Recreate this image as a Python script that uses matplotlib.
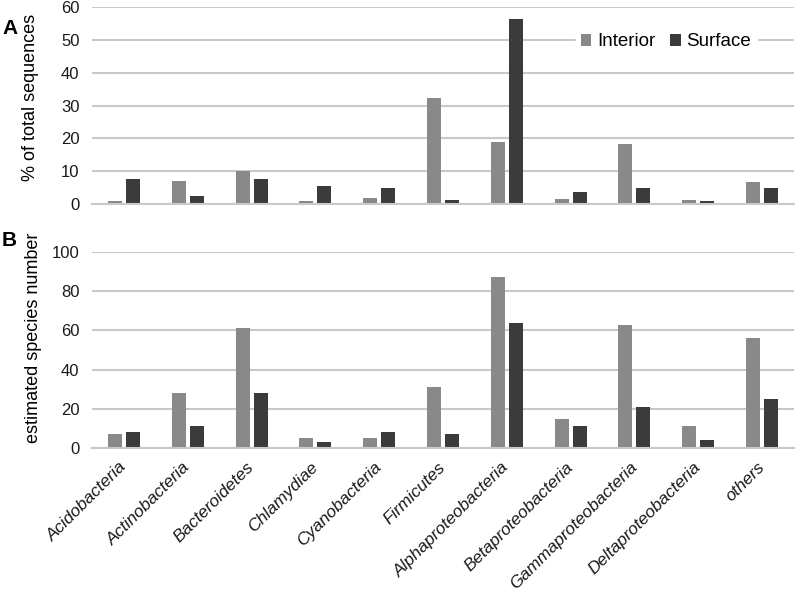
import matplotlib
matplotlib.use("Agg")
from matplotlib import pyplot as plt
import numpy as np

plt.rcParams['font.family'] = ['Liberation Sans', 'DejaVu Sans']

categories = ['Acidobacteria', 'Actinobacteria', 'Bacteroidetes', 'Chlamydiae',
              'Cyanobacteria', 'Firmicutes', 'Alphaproteobacteria', 'Betaproteobacteria',
              'Gammaproteobacteria', 'Deltaproteobacteria', 'others']

# panel A: % of total sequences
seq_interior = [0.8, 7.1, 10.0, 0.9, 1.8, 32.3, 19.0, 1.6, 18.3, 1.2, 6.8]
seq_surface = [7.7, 2.5, 7.7, 5.5, 4.9, 1.1, 56.3, 3.6, 5.0, 0.8, 5.0]

# panel B: estimated species number
sp_interior = [7, 28, 61, 5, 5, 31, 87, 15, 63, 11, 56]
sp_surface = [8, 11, 28, 3, 8, 7, 64, 11, 21, 4, 25]

c_int = '#898989'
c_sur = '#3b3b3b'
grid_c = '#c9c9c9'

fig = plt.figure(figsize=(7.96, 5.96), dpi=100)
axA = fig.add_axes([92/796, 1-204/596, 702/796, 197/596])
axB = fig.add_axes([92/796, 1-448/596, 702/796, 196/596])

x = np.arange(len(categories))
w = 0.22
off = 0.141

def style(ax, top, step):
    ax.set_xlim(-0.5, len(categories) - 0.5)
    ax.set_ylim(0, top)
    ax.set_yticks(np.arange(0, top + 1, step))
    ax.yaxis.grid(True, color=grid_c, linewidth=1.5)
    ax.set_axisbelow(True)
    for s in ['left', 'right', 'top']:
        ax.spines[s].set_visible(False)
    ax.spines['bottom'].set_color(grid_c)
    ax.spines['bottom'].set_linewidth(1.5)
    ax.tick_params(axis='both', length=0, labelsize=12, colors='#1a1a1a')
    ax.tick_params(axis='y', pad=9)

axA.bar(x - off, seq_interior, w, color=c_int, label='Interior')
axA.bar(x + off, seq_surface, w, color=c_sur, label='Surface')
style(axA, 60, 10)
axA.set_xticks(x)
axA.set_xticklabels([])
axA.set_ylabel('% of total sequences', fontsize=13)
axA.yaxis.set_label_coords(-(92 - 39) / 702, 0.54)
leg = axA.legend(loc='center right', bbox_to_anchor=(1 - 28/702, (204 - 42) / 197), ncol=2,
                 frameon=True, fontsize=13.5, handlelength=0.55, handleheight=0.55,
                 handletextpad=0.3, columnspacing=0.8, borderpad=0.3, fancybox=False)
leg.get_frame().set_edgecolor('white')
leg.get_frame().set_facecolor('white')
leg.get_frame().set_alpha(1)

axB.bar(x - off, sp_interior, w, color=c_int)
axB.bar(x + off, sp_surface, w, color=c_sur)
style(axB, 100, 20)
axB.set_xticks(x)
axB.set_xticklabels(categories, rotation=45, ha='right', va='center', rotation_mode='anchor',
                    fontstyle='italic', fontsize=12.5)
axB.tick_params(axis='x', pad=12)
axB.set_ylabel('estimated species number', fontsize=13)
axB.yaxis.set_label_coords(-(92 - 42) / 702, 0.56)

fig.text(2/796, 1-28/596, 'A', fontsize=15, fontweight='bold', va='center')
fig.text(2/796, 1-241/596, 'B', fontsize=15, fontweight='bold', va='center')

fig.savefig('out.png', dpi=100)
